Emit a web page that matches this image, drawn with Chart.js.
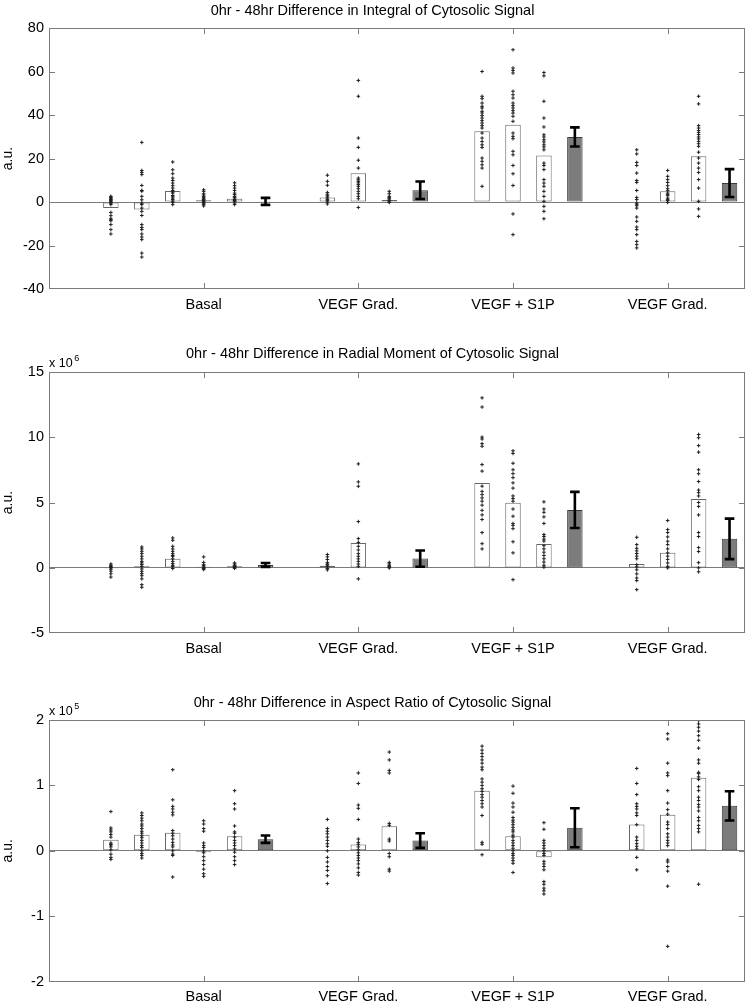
<!DOCTYPE html>
<html>
<head>
<meta charset="utf-8">
<script src="https://cdn.jsdelivr.net/npm/chart.js@4.4.1/dist/chart.umd.min.js"></script>
<style>
html,body{margin:0;padding:0;background:#fff;width:750px;height:1005px;overflow:hidden}
canvas{position:absolute;left:0}
</style>
</head>
<body>
<canvas id="c1" width="750" height="320" style="top:0px"></canvas>
<canvas id="c2" width="750" height="340" style="top:320px"></canvas>
<canvas id="c3" width="750" height="345" style="top:660px"></canvas>
<script>
// ---------------- DATA ----------------
const CAT_POS = [1, 2, 3, 4];
const CAT_LABELS = ['Basal', 'VEGF Grad.', 'VEGF + S1P', 'VEGF Grad.'];
// x-values (data units) of the individual-condition bars and of the summary (mean) bars
const WHITE_POS = [0.4, 0.6, 0.8, 1.0, 1.2, 1.8, 2.0, 2.2, 2.8, 3.0, 3.2, 3.8, 4.0, 4.2];
const MEAN_POS = [1.4, 2.4, 3.4, 4.4];

// Panel 1: Integral (a.u.)
const P1_TITLE = '0hr - 48hr Difference in Integral of Cytosolic Signal';
const P1_WHITE = [-2.8, -3.5, 5.1, 0.8, 1.5, 2.1, 13.2, 0.9, 32.5, 35.5, 21.4, 0.2, 5.0, 21.0];
const P1_MEAN = [0.3, 5.4, 29.9, 8.7];
const P1_ERR = [1.6, 4.0, 4.4, 6.4];
const P1_PTS = [
  [2.6, 2.2, 1.8, 1.4, 1.1, 0.7, 0.3, -0.2, -0.5, -1.2, -4.8, -6.3, -7.7, -8.2, -8.6, -10.4, -12.7, -14.7],
  [27.4, 14.5, 13.6, 12.6, 7.6, 5.3, 5.0, 2.6, 1.0, -0.5, -1.2, -2.8, -4.3, -6.2, -10.4, -11.7, -12.7, -14.7, -16.1, -17.3, -23.5, -25.3],
  [18.4, 14.8, 13.0, 11.0, 9.9, 8.7, 7.5, 6.4, 5.3, 4.6, 4.1, 3.0, 2.4, 1.8, 1.1, 0.4, -0.2, -1.2],
  [5.6, 4.9, 3.8, 3.2, 2.6, 2.0, 1.5, 1.1, 0.7, 0.3, -0.2, -0.6, -1.2, -1.8],
  [8.8, 7.5, 6.4, 5.3, 4.1, 3.4, 2.6, 2.2, 1.8, 1.1, 0.7, 0.3, -0.5, -1.2],
  [12.3, 9.5, 7.7, 4.4, 3.6, 2.9, 2.3, 1.8, 1.1, 0.6, 0, -0.9],
  [55.9, 48.6, 29.4, 25.1, 19.2, 15.6, 11.0, 10.2, 9.5, 8.8, 8.0, 7.2, 6.1, 4.9, 3.8, 2.6, 1.5, -2.5],
  [4.9, 3.8, 2.6, 2.0, 1.5, 0.9, 0.6, 0, -0.2],
  [60.0, 48.6, 47.5, 45.5, 44.0, 43.2, 41.7, 40.9, 39.7, 38.6, 37.4, 36.3, 35.1, 34.0, 31.7, 29.4, 27.8, 26.3, 25.1, 20.2, 18.7, 17.1, 15.6, 7.2],
  [70.0, 61.6, 60.5, 59.3, 50.9, 49.3, 47.8, 45.5, 44.3, 43.2, 42.0, 40.9, 39.4, 37.1, 31.7, 30.2, 29.1, 23.3, 21.7, 16.8, 13.0, 7.6, -5.5, -15.0],
  [59.5, 58.0, 46.3, 38.6, 34.5, 30.9, 29.9, 28.6, 27.6, 26.3, 25.3, 24.0, 17.9, 16.8, 14.9, 10.3, 8.7, 7.2, 4.9, 2.6, 0.3, -2.0, -4.3, -7.7],
  [24.0, 22.1, 18.2, 16.8, 13.3, 9.9, 9.0, 5.3, 2.1, 1.1, -0.5, -1.0, -1.7, -2.8, -6.9, -8.9, -11.5, -12.7, -15.0, -18.1, -19.6, -21.1],
  [14.5, 11.8, 10.3, 9.0, 7.5, 6.1, 5.2, 4.1, 3.5, 2.9, 1.8, 1.2, 0.7, -0.2],
  [48.6, 45.1, 35.1, 34.0, 32.9, 32.0, 31.0, 29.9, 29.0, 27.9, 26.8, 25.6, 22.9, 20.2, 17.9, 15.6, 13.6, 10.3, 6.4, 0.3, -3.2, -6.6]
];

// Panel 2: Radial moment (values in units of 10^6 a.u.)
const P2_TITLE = '0hr - 48hr Difference in Radial Moment of Cytosolic Signal';
const P2_EXP = 6;
const P2_WHITE = [-0.03, 0.12, 0.69, 0.08, 0.12, 0.17, 1.91, 0.05, 6.5, 4.99, 1.83, 0.3, 1.15, 5.27];
const P2_MEAN = [0.23, 0.71, 4.43, 2.22];
const P2_ERR = [0.15, 0.62, 1.38, 1.55];
const P2_PTS = [
  [0.3, 0.2, 0.1, 0.05, 0, -0.1, -0.25, -0.45, -0.7],
  [1.6, 1.45, 1.27, 1.09, 0.89, 0.69, 0.5, 0.38, 0.25, 0.12, -0.08, -0.26, -0.44, -0.6, -0.84, -1.28, -1.48],
  [2.29, 2.11, 1.65, 1.45, 1.27, 1.09, 0.95, 0.89, 0.69, 0.5, 0.33, 0.2, 0.12, -0.05],
  [0.84, 0.42, 0.25, 0.17, 0.08, 0, -0.05, -0.13],
  [0.38, 0.3, 0.2, 0.15, 0.1, 0.05, 0, -0.03],
  [1.02, 0.84, 0.64, 0.42, 0.3, 0.25, 0.15, 0.08, -0.05, -0.15],
  [7.95, 6.57, 6.24, 3.54, 2.24, 1.95, 1.65, 1.37, 1.09, 0.89, 0.69, 0.5, 0.3, 0.12, -0.84],
  [0.42, 0.3, 0.2, 0.1, 0.05, 0],
  [13.0, 12.3, 10.0, 9.85, 9.5, 9.3, 7.9, 7.4, 6.25, 5.85, 5.6, 5.35, 5.1, 4.8, 4.4, 4.05, 3.7, 2.7, 1.85, 1.45],
  [8.95, 8.75, 8.0, 7.5, 7.2, 6.9, 6.5, 6.1, 5.5, 5.3, 5.1, 4.5, 3.95, 3.4, 3.25, 3.0, 2.0, 1.15, -0.9],
  [5.05, 4.5, 4.25, 3.9, 3.4, 2.55, 2.4, 2.2, 2.05, 1.7, 1.45, 1.2, 0.95, 0.7, 0.45, 0.2, 0.05],
  [2.34, 1.78, 1.5, 1.3, 1.1, 0.9, 0.7, 0.25, 0.08, -0.15, -0.46, -0.77, -0.97, -1.66],
  [3.62, 2.93, 2.7, 2.37, 2.04, 1.78, 1.45, 1.15, 0.9, 0.65, 0.38, 0.12, 0],
  [10.2, 9.95, 9.35, 8.85, 7.5, 7.2, 6.6, 5.95, 5.75, 5.5, 5.0, 4.7, 4.05, 2.7, 2.4, 1.55, 1.25, 0.4, 0, -0.3]
];

// Panel 3: Aspect ratio (values in units of 10^5 a.u.)
const P3_TITLE = '0hr - 48hr Difference in Aspect Ratio of Cytosolic Signal';
const P3_EXP = 5;
const P3_WHITE = [0.168, 0.245, 0.275, -0.02, 0.224, 0.005, 0.097, 0.377, 0.917, 0.224, -0.097, 0.403, 0.55, 1.116];
const P3_MEAN = [0.178, 0.158, 0.352, 0.688];
const P3_ERR = [0.056, 0.112, 0.298, 0.224];
const P3_PTS = [
  [0.60, 0.35, 0.32, 0.29, 0.25, 0.21, 0.12, 0.10, 0.09, 0.06, 0.015, -0.05, -0.10, -0.13],
  [0.58, 0.54, 0.50, 0.46, 0.41, 0.38, 0.34, 0.30, 0.27, 0.23, 0.20, 0.16, 0.12, 0.08, 0.05, 0.0, -0.04, -0.07, -0.11],
  [1.24, 0.78, 0.68, 0.64, 0.59, 0.55, 0.31, 0.27, 0.23, 0.18, 0.13, 0.09, 0.06, 0.0, -0.05, -0.07, -0.40],
  [0.46, 0.41, 0.34, 0.30, 0.12, 0.08, 0.05, 0.0, -0.03, -0.09, -0.15, -0.21, -0.28, -0.35, -0.39],
  [0.92, 0.72, 0.64, 0.38, 0.29, 0.27, 0.21, 0.16, 0.12, 0.08, 0.03, -0.02, -0.09, -0.15, -0.21],
  [0.48, 0.34, 0.30, 0.26, 0.21, 0.16, 0.11, 0.07, 0.0, -0.10, -0.17, -0.24, -0.30, -0.38, -0.50],
  [1.19, 1.03, 0.70, 0.65, 0.48, 0.18, 0.13, 0.10, 0.06, 0.015, -0.03, -0.07, -0.11, -0.15, -0.20, -0.26, -0.33, -0.37],
  [1.51, 1.39, 1.23, 1.19, 0.42, 0.39, 0.18, 0.15, -0.04, -0.09, -0.28, -0.31],
  [1.60, 1.54, 1.49, 1.44, 1.39, 1.34, 1.28, 1.24, 1.10, 1.05, 1.00, 0.95, 0.91, 0.86, 0.82, 0.77, 0.72, 0.67, 0.54, 0.13, 0.10, -0.06],
  [0.99, 0.88, 0.73, 0.67, 0.59, 0.51, 0.47, 0.44, 0.40, 0.36, 0.32, 0.29, 0.24, 0.21, 0.16, 0.12, 0.08, 0.04, 0.0, -0.04, -0.07, -0.11, -0.15, -0.19, -0.33],
  [0.43, 0.33, 0.16, 0.12, 0.08, 0.04, 0.0, -0.04, -0.07, -0.16, -0.20, -0.24, -0.29, -0.47, -0.51, -0.57, -0.61, -0.66],
  [1.26, 1.03, 0.86, 0.72, 0.68, 0.64, 0.58, 0.54, 0.40, 0.21, 0.16, 0.11, 0.07, 0.03, -0.10, -0.29],
  [1.79, 1.71, 1.34, 1.19, 1.15, 0.92, 0.73, 0.63, 0.56, 0.44, 0.40, 0.34, 0.26, 0.21, 0.16, 0.12, 0.08, -0.14, -0.17, -0.24, -0.31, -0.54, -1.46],
  [1.99, 1.94, 1.89, 1.83, 1.76, 1.69, 1.57, 1.39, 1.34, 1.20, 1.18, 1.13, 1.09, 0.98, 0.92, 0.82, 0.77, 0.71, 0.67, 0.61, 0.51, 0.46, 0.39, 0.34, 0.29, -0.51]
];

// ---------------- STYLE ----------------
const FONT = "'Liberation Sans', Arial, Helvetica, sans-serif";
const FS = 14.5;
const AXIS_COLOR = '#7b7b7b';
const WHITE_EDGE = '#666666';
const GRAY_FILL = '#7c7c7c';
const GRAY_EDGE = '#3a3a3a';
const PT_COLOR = '#1e1e1e';

Chart.defaults.font.family = FONT;
Chart.defaults.color = '#000';

const boxPlugin = {
  id: 'matlabBox',
  afterDraw(chart, args, opts) {
    const ctx = chart.ctx, a = chart.chartArea;
    const xs = chart.scales.x, ys = chart.scales.y;
    const L = Math.round(a.left) + 0.5, R = Math.round(a.right) - 0.5;
    const T = Math.round(a.top) + 0.5, B = Math.round(a.bottom) - 0.5;
    const tl = 5.5;
    ctx.save();
    ctx.strokeStyle = AXIS_COLOR;
    ctx.lineWidth = 1;
    ctx.strokeRect(L, T, R - L, B - T);
    ctx.beginPath();
    xs.ticks.forEach(t => {
      const px = Math.round(xs.getPixelForValue(t.value)) + 0.5;
      ctx.moveTo(px, T); ctx.lineTo(px, T + tl);
      ctx.moveTo(px, B); ctx.lineTo(px, B - tl);
    });
    ys.ticks.forEach(t => {
      if (t.value === ys.min || t.value === ys.max) return;
      const py = Math.round(ys.getPixelForValue(t.value)) + 0.5;
      ctx.moveTo(L, py); ctx.lineTo(L + tl, py);
      ctx.moveTo(R, py); ctx.lineTo(R - tl, py);
    });
    ctx.stroke();
    // exponent label
    if (opts && opts.exp) {
      ctx.fillStyle = '#000';
      ctx.textBaseline = 'alphabetic';
      ctx.textAlign = 'left';
      ctx.font = '12.5px ' + FONT;
      const base = a.top - 5;
      const txt = 'x 10';
      ctx.fillText(txt, a.left, base);
      const w = ctx.measureText(txt).width;
      ctx.font = '9px ' + FONT;
      ctx.fillText(String(opts.exp), a.left + w + 1.5, base - 6);
    }
    ctx.restore();
  }
};

const errPlugin = {
  id: 'errBars',
  afterDatasetsDraw(chart, args, opts) {
    if (!opts || !opts.pos) return;
    const ctx = chart.ctx, xs = chart.scales.x, ys = chart.scales.y;
    ctx.save();
    ctx.strokeStyle = '#000';
    ctx.lineWidth = 2.6;
    ctx.lineCap = 'butt';
    opts.pos.forEach((p, i) => {
      const x = xs.getPixelForValue(p);
      const lo = ys.getPixelForValue(opts.mean[i] - opts.err[i]);
      const hi = ys.getPixelForValue(opts.mean[i] + opts.err[i]);
      const hw = 4.8;
      ctx.beginPath();
      ctx.moveTo(x, lo); ctx.lineTo(x, hi);
      ctx.moveTo(x - hw, lo); ctx.lineTo(x + hw, lo);
      ctx.moveTo(x - hw, hi); ctx.lineTo(x + hw, hi);
      ctx.stroke();
    });
    ctx.restore();
  }
};

function makePanel(id, p) {
  const barData = WHITE_POS.map((x, i) => ({x: x, y: p.white[i]}))
    .concat(MEAN_POS.map((x, i) => ({x: x, y: p.mean[i]})));
  const bg = WHITE_POS.map(() => '#ffffff').concat(MEAN_POS.map(() => GRAY_FILL));
  const bc = WHITE_POS.map(() => WHITE_EDGE).concat(MEAN_POS.map(() => GRAY_EDGE));
  const pts = [];
  p.pts.forEach((arr, i) => arr.forEach(v => pts.push({x: WHITE_POS[i], y: v})));

  const canvas = document.getElementById(id);
  const H = canvas.height;
  const titleLH = FS * 1.2;
  const pTop = p.titleY - titleLH / 2;
  const pBot = p.top - pTop - titleLH;

  return new Chart(canvas, {
    type: 'bar',
    data: {
      datasets: [
        {
          type: 'scatter',
          data: pts,
          pointStyle: 'cross',
          radius: 1.8,
          borderWidth: 1,
          borderColor: PT_COLOR,
          backgroundColor: PT_COLOR,
          order: 1
        },
        {
          type: 'bar',
          data: barData,
          backgroundColor: bg,
          borderColor: bc,
          borderWidth: 1,
          borderSkipped: false,
          barPercentage: 0.5,
          categoryPercentage: 1.0,
          order: 2
        }
      ]
    },
    options: {
      responsive: false,
      animation: false,
      events: [],
      layout: {padding: {left: 0, right: 5, top: 0, bottom: 0}},
      plugins: {
        legend: {display: false},
        tooltip: {enabled: false},
        title: {
          display: true, text: p.title, color: '#000',
          font: {family: FONT, size: FS, weight: 'normal', lineHeight: 1.2},
          padding: {top: pTop, bottom: pBot}
        },
        matlabBox: {exp: p.exp},
        errBars: {pos: MEAN_POS, mean: p.mean, err: p.err}
      },
      scales: {
        x: {
          type: 'linear', min: 0, max: 4.5, offset: false,
          grid: {display: false, drawTicks: false, offset: false},
          border: {display: false},
          afterBuildTicks: s => { s.ticks = CAT_POS.map(v => ({value: v})); },
          afterFit: s => { s.height = H - p.bottom; },
          ticks: {
            padding: 7, color: '#000', autoSkip: false, maxRotation: 0,
            font: {family: FONT, size: FS},
            callback: (v, i) => CAT_LABELS[i]
          }
        },
        y: {
          type: 'linear', min: p.yMin, max: p.yMax,
          grid: {
            drawTicks: false,
            color: c => (c.tick && c.tick.value === 0) ? AXIS_COLOR : 'rgba(0,0,0,0)',
            lineWidth: 1
          },
          border: {display: false},
          afterFit: s => { s.width = 49; },
          title: {display: true, text: 'a.u.', color: '#000', padding: {top: 0, bottom: 0},
                  font: {family: FONT, size: 14}},
          ticks: {stepSize: p.yStep, padding: 5, color: '#000', font: {family: FONT, size: FS}}
        }
      }
    },
    plugins: [boxPlugin, errPlugin]
  });
}

makePanel('c1', {title: P1_TITLE, white: P1_WHITE, mean: P1_MEAN, err: P1_ERR, pts: P1_PTS,
  yMin: -40, yMax: 80, yStep: 20, titleY: 10.5, top: 28, bottom: 289, exp: null});
makePanel('c2', {title: P2_TITLE, white: P2_WHITE, mean: P2_MEAN, err: P2_ERR, pts: P2_PTS,
  yMin: -5, yMax: 15, yStep: 5, titleY: 33.8, top: 51.7, bottom: 313.3, exp: P2_EXP});
makePanel('c3', {title: P3_TITLE, white: P3_WHITE, mean: P3_MEAN, err: P3_ERR, pts: P3_PTS,
  yMin: -2, yMax: 2, yStep: 1, titleY: 42.8, top: 60, bottom: 321.7, exp: P3_EXP});
</script>
</body>
</html>
